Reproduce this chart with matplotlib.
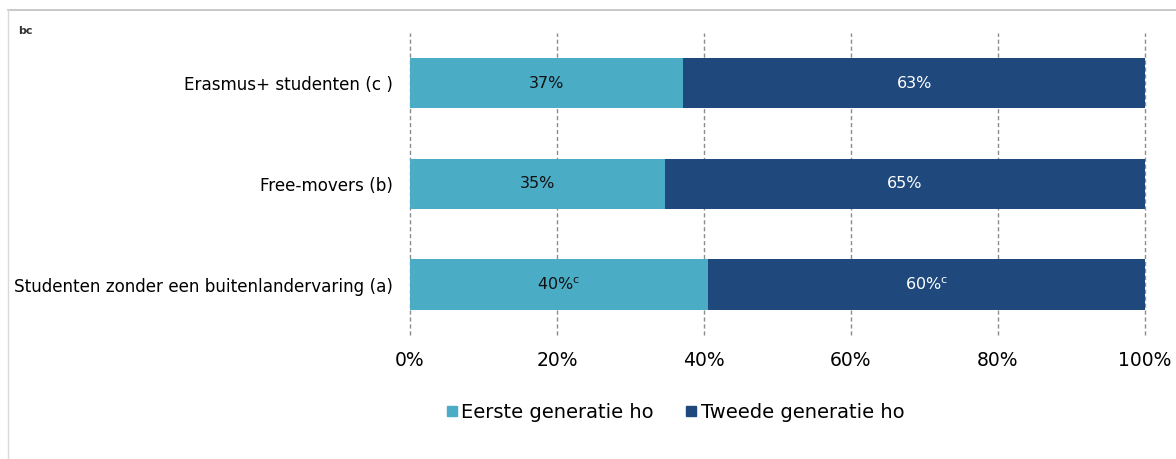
import numpy as np
import matplotlib.pyplot as plt
from matplotlib.lines import Line2D


# ************************************************************
# Data
# ************************************************************

categories = [
    "Studenten zonder een buitenlandervaring (a)",
    "Free-movers (b)",
    "Erasmus+ studenten (c )"
]

eerste = [40.5, 34.7, 37.2]
tweede = [59.5, 65.3, 62.8]

eerste_labels = ["40%$^{\\mathrm{c}}$", "35%", "37%"]
tweede_labels = ["60%$^{\\mathrm{c}}$", "65%", "63%"]

series_names = ["Eerste generatie ho", "Tweede generatie ho"]

x_ticks = [0, 20, 40, 60, 80, 100]
x_ticklabels = ["0%", "20%", "40%", "60%", "80%", "100%"]

light = "#4BACC6"
dark = "#1F497D"


# ************************************************************
# Figure
# ************************************************************

plt.rcParams['font.family'] = ['DejaVu Sans']

fig = plt.figure(figsize=(11.76, 4.59), dpi=100)
ax = fig.add_axes([0.3486, 0.2702, 0.625, 0.6579])

y = np.arange(len(categories))

ax.barh(y, eerste, height=0.5, color=light, zorder=2)
ax.barh(y, tweede, left=eerste, height=0.5, color=dark, zorder=2)

for i in range(len(categories)):
    ax.text(eerste[i] / 2, y[i], eerste_labels[i],
            ha='center', va='center', fontsize=11.5, color='#111111', zorder=3)
    ax.text(eerste[i] + tweede[i] / 2, y[i], tweede_labels[i],
            ha='center', va='center', fontsize=11.5, color='white', zorder=3)

ax.set_xlim(0, 100)
ax.set_ylim(-0.5, 2.5)

ax.set_xticks(x_ticks)
ax.set_xticklabels(x_ticklabels, fontsize=13.5)
ax.set_yticks(y)
ax.set_yticklabels(categories, fontsize=12.1)
ax.tick_params(length=0)
ax.tick_params(axis='x', pad=11.5)
ax.tick_params(axis='y', pad=12.5)

for xv in x_ticks:
    ax.axvline(xv, color='#8c8c8c', linestyle=(0, (3, 2)), linewidth=1.0,
               zorder=1, clip_on=False)

for s in ax.spines.values():
    s.set_visible(False)

# legend
handles = [
    Line2D([], [], marker='s', linestyle='none', markersize=7.5, color=light),
    Line2D([], [], marker='s', linestyle='none', markersize=7.5, color=dark)
]
fig.legend(handles, series_names, loc='center', bbox_to_anchor=(0.574, 0.102),
           ncol=2, frameon=False, fontsize=14, handletextpad=0.15,
           columnspacing=1.6, handlelength=0.65)

# chart frame lines
fig.add_artist(Line2D([0.007, 1.0], [0.978, 0.978], color='#bfbfbf', linewidth=1.2))
fig.add_artist(Line2D([0.007, 0.007], [0.0, 0.978], color='#d9d9d9', linewidth=1.0))

fig.text(0.0155, 0.925, "bc", fontsize=8, fontweight='bold', color='#333333')

fig.savefig("out.png", dpi=100)
